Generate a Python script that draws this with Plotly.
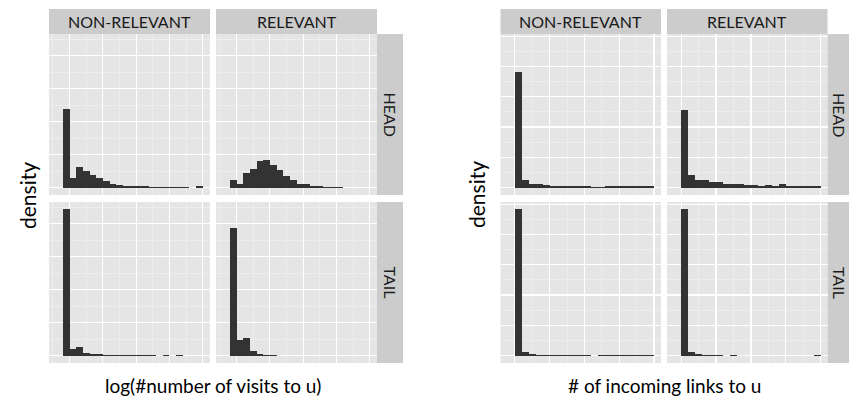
import plotly.graph_objects as go

# ---------------- data ----------------
# left chart: log(#number of visits to u); bin left edges (bin width 0.2)
visits_bins = [-0.2, 0.0, 0.2, 0.4, 0.6, 0.8, 1.0, 1.2, 1.4, 1.6, 1.8,
               2.0, 2.2, 2.4, 2.6, 2.8, 3.0, 3.2, 3.4, 3.6, 3.8]
visits_nonrel_head = [2.40, 0.30, 0.63, 0.51, 0.39, 0.30, 0.20, 0.12, 0.09, 0.06, 0.05,
                      0.04, 0.04, 0.02, 0.02, 0.02, 0.02, 0.02, 0.02, 0.00, 0.05]
visits_rel_head = [0.24, 0.12, 0.46, 0.58, 0.81, 0.85, 0.70, 0.54, 0.34, 0.24, 0.11,
                   0.10, 0.04, 0.04, 0.02, 0.02, 0.02, 0.00, 0.00, 0.00, 0.00]
visits_nonrel_tail = [4.44, 0.21, 0.27, 0.08, 0.04, 0.04, 0.02, 0.02, 0.02, 0.02, 0.02,
                      0.02, 0.02, 0.02, 0.00, 0.02, 0.00, 0.02, 0.00, 0.00, 0.00]
visits_rel_tail = [3.88, 0.48, 0.55, 0.15, 0.06, 0.03, 0.03, 0.00, 0.00, 0.00, 0.00,
                   0.00, 0.00, 0.00, 0.00, 0.00, 0.00, 0.00, 0.00, 0.00, 0.00]

# right chart: # of incoming links to u; bin left edges (bin width 0.2)
links_bins = [0.0, 0.2, 0.4, 0.6, 0.8, 1.0, 1.2, 1.4, 1.6, 1.8,
              2.0, 2.2, 2.4, 2.6, 2.8, 3.0, 3.2, 3.4, 3.6, 3.8]
links_nonrel_head = [3.82, 0.26, 0.13, 0.13, 0.09, 0.06, 0.05, 0.05, 0.05, 0.05,
                     0.05, 0.02, 0.02, 0.04, 0.07, 0.04, 0.04, 0.04, 0.04, 0.04]
links_rel_head = [2.57, 0.42, 0.26, 0.26, 0.19, 0.19, 0.13, 0.13, 0.13, 0.09,
                  0.09, 0.06, 0.09, 0.06, 0.13, 0.06, 0.06, 0.06, 0.04, 0.07]
links_nonrel_tail = [4.84, 0.12, 0.05, 0.03, 0.03, 0.03, 0.03, 0.03, 0.03, 0.03,
                     0.03, 0.00, 0.03, 0.03, 0.03, 0.03, 0.03, 0.03, 0.03, 0.03]
links_rel_tail = [4.84, 0.12, 0.04, 0.03, 0.03, 0.03, 0.00, 0.03, 0.00, 0.00,
                  0.00, 0.00, 0.00, 0.00, 0.00, 0.00, 0.00, 0.00, 0.00, 0.03]

col_labels = ["NON-RELEVANT", "RELEVANT"]
row_labels = ["HEAD", "TAIL"]
x_titles = ["log(#number of visits to u)", "# of incoming links to u"]
y_title = "density"

# ---------------- layout geometry (pixels) ----------------
W, H = 849, 404
FONT = "Lato"
BAR = "#333333"
PANEL_BG = "#E5E5E5"
STRIP_BG = "#CCCCCC"

def fx(p):
    return p / W

def fy(p):
    return 1 - p / H

charts = [
    dict(cols=[(49, 210), (216, 377)], strip=(377, 403),
         xr=[-0.62, 4.22], yr=[-0.222, 4.662], bins=visits_bins,
         data=[[visits_nonrel_head, visits_rel_head], [visits_nonrel_tail, visits_rel_tail]],
         title=x_titles[0], title_x=213, ylab_x=27, strip_text_x=390),
    dict(cols=[(500.5, 661), (667, 827.5)], strip=(827.5, 853.5),
         xr=[-0.41, 4.2], yr=[-0.2415, 5.07], bins=links_bins,
         data=[[links_nonrel_head, links_rel_head], [links_nonrel_tail, links_rel_tail]],
         title=x_titles[1], title_x=664, ylab_x=476, strip_text_x=839.5),
]
rows = [(34, 195), (202, 363)]
top_strip = (9, 34)

fig = go.Figure()
layout = {}
shapes = []
annotations = []

n = 0
for ch in charts:
    for ri, (rt, rb) in enumerate(rows):
        for ci, (cl, cr) in enumerate(ch["cols"]):
            n += 1
            xa = "x" if n == 1 else f"x{n}"
            ya = "y" if n == 1 else f"y{n}"
            fig.add_trace(go.Bar(
                x=ch["bins"], y=ch["data"][ri][ci], width=0.2, offset=0,
                marker=dict(color=BAR, line=dict(width=0)),
                xaxis=xa, yaxis=ya, showlegend=False, hoverinfo="skip"))
            common = dict(showticklabels=False, ticks="", zeroline=False,
                          showline=False, gridcolor="white", gridwidth=1.2,
                          tick0=0, dtick=1, fixedrange=True,
                          minor=dict(showgrid=True, gridcolor="#F2F2F2",
                                     gridwidth=0.6, tick0=0, dtick=0.5, ticks=""))
            layout["xaxis" if n == 1 else f"xaxis{n}"] = dict(
                domain=[fx(cl), fx(cr)], range=ch["xr"], anchor=ya, **common)
            layout["yaxis" if n == 1 else f"yaxis{n}"] = dict(
                domain=[fy(rb), fy(rt)], range=ch["yr"], anchor=xa, **common)
    # column strips
    for ci, (cl, cr) in enumerate(ch["cols"]):
        shapes.append(dict(type="rect", xref="paper", yref="paper",
                           x0=fx(cl), x1=fx(cr), y0=fy(top_strip[1]), y1=fy(top_strip[0]),
                           fillcolor=STRIP_BG, line=dict(width=0), layer="below"))
        annotations.append(dict(text=col_labels[ci], xref="paper", yref="paper",
                                x=fx((cl + cr) / 2), y=fy((top_strip[0] + top_strip[1]) / 2),
                                showarrow=False, xanchor="center", yanchor="middle",
                                font=dict(family=FONT, size=16, color="#1A1A1A")))
    # row strips
    sl, sr = ch["strip"]
    for ri, (rt, rb) in enumerate(rows):
        shapes.append(dict(type="rect", xref="paper", yref="paper",
                           x0=fx(sl), x1=fx(sr), y0=fy(rb), y1=fy(rt),
                           fillcolor=STRIP_BG, line=dict(width=0), layer="below"))
        annotations.append(dict(text=row_labels[ri], xref="paper", yref="paper",
                                x=fx(ch["strip_text_x"]), y=fy((rt + rb) / 2), textangle=90,
                                showarrow=False, xanchor="center", yanchor="middle",
                                font=dict(family=FONT, size=16, color="#1A1A1A")))
    # axis titles
    annotations.append(dict(text=ch["title"], xref="paper", yref="paper",
                            x=fx(ch["title_x"]), y=fy(385), showarrow=False,
                            xanchor="center", yanchor="middle",
                            font=dict(family=FONT, size=19, color="black")))
    annotations.append(dict(text=y_title, xref="paper", yref="paper",
                            x=fx(ch["ylab_x"]), y=fy(195), textangle=-90, showarrow=False,
                            xanchor="center", yanchor="middle",
                            font=dict(family=FONT, size=21, color="black")))

fig.update_layout(
    width=W, height=H, margin=dict(l=0, r=0, t=0, b=0),
    paper_bgcolor="white", plot_bgcolor=PANEL_BG,
    bargap=0, shapes=shapes, annotations=annotations, **layout)

fig.write_html("out.html", config={"displayModeBar": False, "staticPlot": True},
               post_script="document.body.style.margin='0';document.body.style.overflow='hidden';")
